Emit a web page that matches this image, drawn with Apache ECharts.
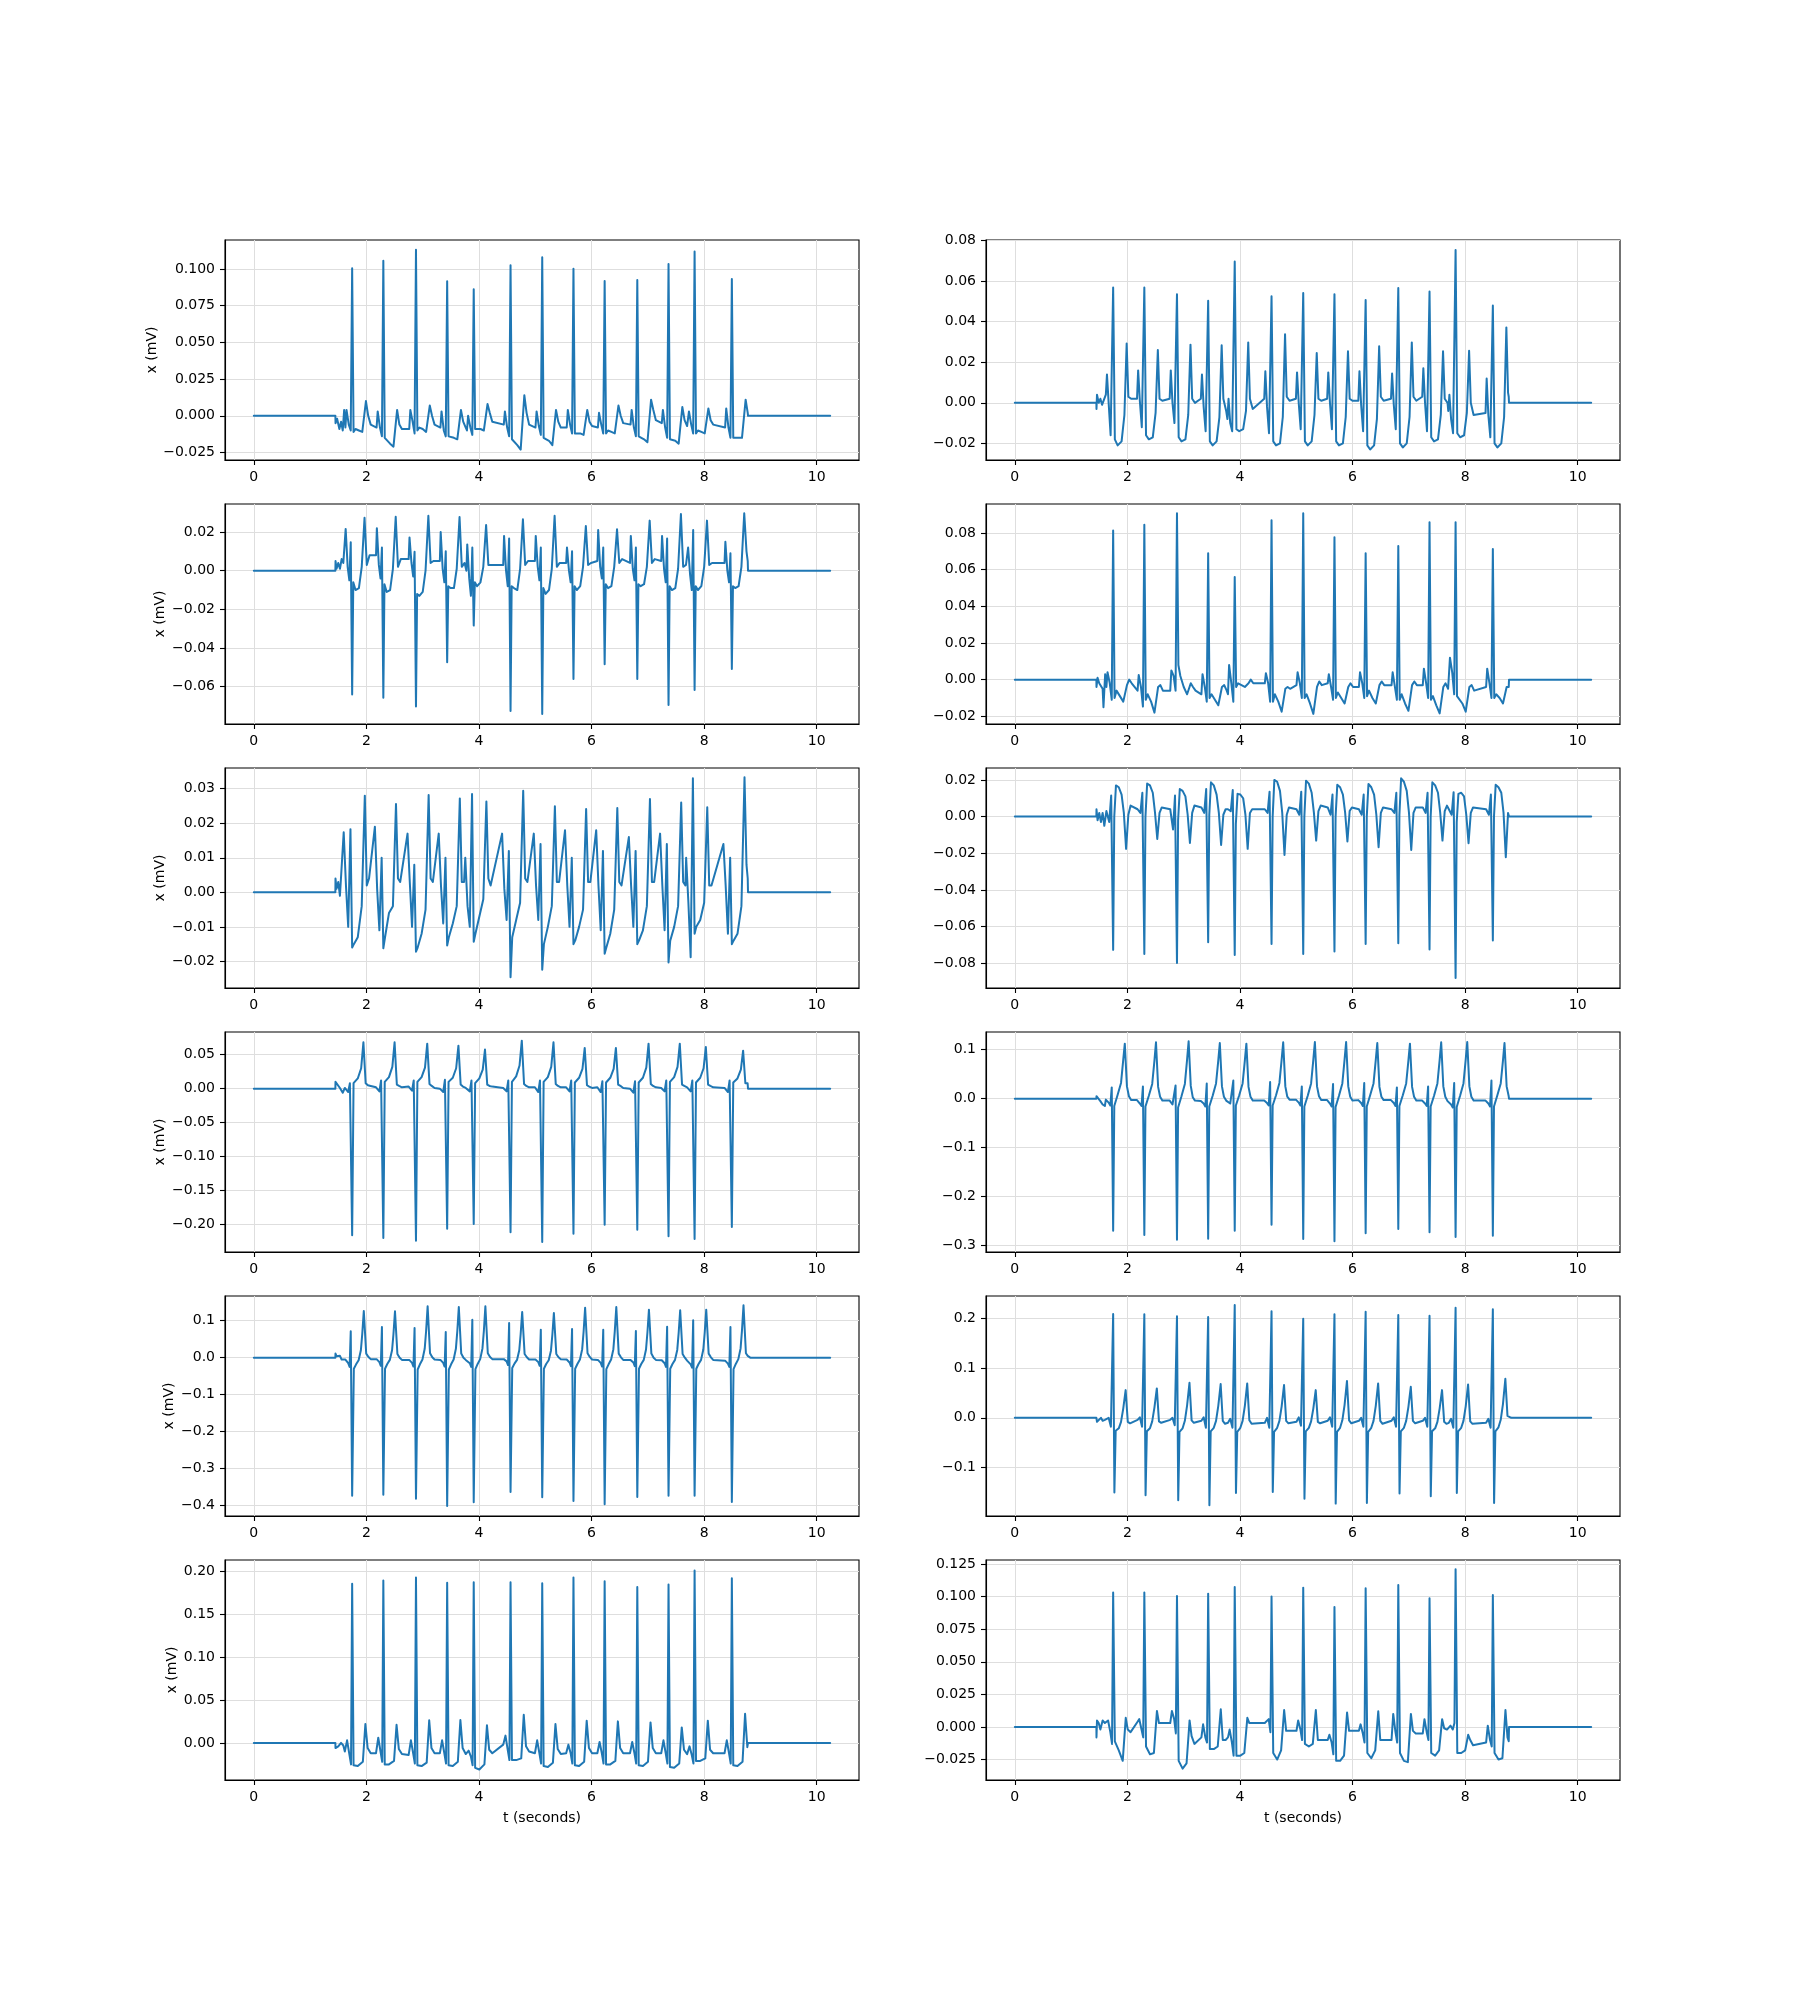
<!DOCTYPE html>
<html>
<head>
<meta charset="utf-8">
<script src="https://cdn.jsdelivr.net/npm/echarts@6/dist/echarts.min.js"></script>
<style>html,body{margin:0;padding:0;background:#fff;}#chart{width:1800px;height:2000px;}</style>
</head>
<body>
<div id="chart"></div>
<script>
// ---- data ----
const rTimes = [1.747, 2.301, 2.881, 3.435, 3.907, 4.561, 5.124, 5.679, 6.233, 6.813, 7.368, 7.831, 8.493];
const tStart = 1.449, tEnd = 8.775, tFlat = [8.78, 8.82], tLast = 10.24;
const xTicks = [0, 2, 4, 6, 8, 10];

// lead 0 (row 1, left)
const offs0 = [-0.12, -0.1, -0.06, -0.025, 0, 0.025, 0.06, 0.12, 0.18, 0.245, 0.285, 0.33];
const beats0 = [
 [-0.008, 0.004, -0.006, -0.010, 0.1005, -0.011, -0.009, -0.010, -0.011, 0.010, 0.000, -0.006],
 [-0.008, 0.003, -0.008, -0.014, 0.1055, -0.015, -0.016, -0.019, -0.021, 0.004, -0.006, -0.009],
 [-0.009, 0.004, -0.004, -0.012, 0.1130, -0.010, -0.008, -0.009, -0.011, 0.007, 0.000, -0.006],
 [-0.008, 0.003, -0.010, -0.014, 0.0916, -0.014, -0.013, -0.015, -0.016, 0.004, -0.004, -0.008],
 [-0.010, 0.000, -0.008, -0.013, 0.0861, -0.009, -0.008, -0.009, -0.010, 0.008, 0.002, -0.004],
 [-0.006, 0.003, -0.008, -0.014, 0.1025, -0.016, -0.015, -0.020, -0.023, 0.014, 0.002, -0.006],
 [-0.008, 0.003, -0.007, -0.013, 0.1080, -0.015, -0.014, -0.017, -0.020, 0.004, -0.004, -0.008],
 [-0.008, 0.004, -0.006, -0.012, 0.1002, -0.012, -0.011, -0.012, -0.013, 0.004, -0.004, -0.007],
 [-0.008, 0.002, -0.006, -0.012, 0.0918, -0.012, -0.010, -0.011, -0.012, 0.007, 0.000, -0.005],
 [-0.006, 0.004, -0.008, -0.014, 0.0925, -0.014, -0.013, -0.016, -0.018, 0.011, 0.004, -0.003],
 [-0.005, 0.004, -0.008, -0.015, 0.1034, -0.016, -0.015, -0.017, -0.019, 0.006, -0.003, -0.007],
 [-0.008, 0.003, -0.006, -0.012, 0.1118, -0.012, -0.010, -0.011, -0.012, 0.005, -0.003, -0.006],
 [-0.008, 0.005, -0.008, -0.015, 0.0932, -0.015, -0.014, -0.015, -0.015, 0.011, 0.003, 0.000]
];
const in0 = [[1.452, -0.005], [1.48, -0.002], [1.52, -0.009], [1.55, -0.004], [1.58, -0.010], [1.605, 0.004]];
const out0 = [[8.775, 0.002]];
const yTicks0 = [-0.025, 0, 0.025, 0.05, 0.075, 0.1];

// lead 1 (row 1, right)
const offs1 = [-0.13, -0.11, -0.08, -0.045, 0, 0.03, 0.08, 0.15, 0.2, 0.24, 0.27, 0.32];
const beats1 = [
 [0.004, 0.014, 0.000, -0.016, 0.0569, -0.018, -0.021, -0.019, -0.006, 0.0293, 0.003, 0.002],
 [0.002, 0.016, 0.001, -0.012, 0.0569, -0.016, -0.018, -0.017, -0.005, 0.0260, 0.002, 0.001],
 [0.002, 0.016, 0.000, -0.010, 0.0536, -0.017, -0.019, -0.018, -0.006, 0.0287, 0.002, 0.000],
 [0.002, 0.014, -0.002, -0.014, 0.0503, -0.019, -0.021, -0.019, -0.007, 0.0284, 0.002, -0.004],
 [-0.008, 0.002, -0.010, -0.014, 0.0697, -0.013, -0.014, -0.013, -0.004, 0.0298, 0.002, -0.003],
 [0.002, 0.0156, -0.002, -0.015, 0.0525, -0.019, -0.021, -0.020, -0.007, 0.0338, 0.003, 0.001],
 [0.002, 0.015, 0.000, -0.013, 0.0541, -0.019, -0.021, -0.019, -0.006, 0.0246, 0.002, 0.001],
 [0.002, 0.015, 0.000, -0.013, 0.0536, -0.019, -0.021, -0.020, -0.007, 0.0254, 0.002, 0.001],
 [0.001, 0.0156, -0.001, -0.014, 0.0507, -0.021, -0.023, -0.021, -0.008, 0.0279, 0.003, 0.001],
 [0.002, 0.0144, -0.001, -0.013, 0.0566, -0.020, -0.022, -0.020, -0.007, 0.0298, 0.003, 0.001],
 [0.003, 0.017, 0.000, -0.014, 0.0549, -0.017, -0.019, -0.018, -0.006, 0.0254, 0.002, 0.000],
 [-0.004, 0.004, -0.008, -0.015, 0.0754, -0.015, -0.017, -0.016, -0.005, 0.0257, 0.000, -0.006],
 [-0.005, 0.012, -0.006, -0.017, 0.0480, -0.020, -0.022, -0.020, -0.007, 0.0372, 0.005, 0.000]
];
const in1 = [[1.451, -0.003], [1.46, 0.004], [1.49, 0.000], [1.52, 0.002], [1.55, -0.001]];
const out1 = [[8.775, 0.003]];
const yTicks1 = [-0.02, 0, 0.02, 0.04, 0.06, 0.08];

// lead 2 (row 2, left)
const offs2 = [-0.13, -0.115, -0.08, -0.05, -0.025, 0, 0.02, 0.06, 0.12, 0.17, 0.22, 0.26, 0.31];
const beats2 = [
 [0.005, 0.0216, 0.002, -0.005, 0.0147, -0.0640, -0.006, -0.010, -0.009, 0.002, 0.0274, 0.003, 0.008],
 [0.008, 0.0220, 0.003, -0.004, 0.0120, -0.0657, -0.007, -0.011, -0.010, 0.001, 0.0279, 0.002, 0.006],
 [0.006, 0.0172, 0.004, -0.003, 0.0098, -0.0703, -0.012, -0.013, -0.011, 0.000, 0.0284, 0.004, 0.005],
 [0.005, 0.0200, 0.001, -0.006, 0.0100, -0.0474, -0.008, -0.009, -0.009, 0.001, 0.0278, 0.002, 0.004],
 [0.000, 0.0136, -0.004, -0.013, 0.0120, -0.0284, -0.006, -0.008, -0.006, 0.002, 0.0236, 0.003, 0.003],
 [0.003, 0.0180, 0.000, -0.008, 0.0167, -0.0726, -0.008, -0.009, -0.010, 0.001, 0.0266, 0.003, 0.005],
 [0.005, 0.0180, 0.002, -0.005, 0.0120, -0.0741, -0.009, -0.012, -0.010, 0.001, 0.0284, 0.002, 0.004],
 [0.004, 0.0120, 0.000, -0.006, 0.0100, -0.0560, -0.008, -0.010, -0.008, 0.002, 0.0231, 0.003, 0.004],
 [0.005, 0.0210, 0.002, -0.004, 0.0120, -0.0484, -0.007, -0.009, -0.008, 0.002, 0.0214, 0.004, 0.006],
 [0.004, 0.0180, 0.001, -0.005, 0.0120, -0.0560, -0.007, -0.008, -0.007, 0.002, 0.0259, 0.004, 0.006],
 [0.005, 0.0180, 0.001, -0.006, 0.0167, -0.0695, -0.008, -0.010, -0.009, 0.001, 0.0293, 0.002, 0.003],
 [0.003, 0.0120, -0.002, -0.010, 0.0210, -0.0617, -0.008, -0.010, -0.008, 0.002, 0.0259, 0.003, 0.004],
 [0.004, 0.0150, 0.000, -0.006, 0.0090, -0.0509, -0.008, -0.009, -0.008, 0.002, 0.0297, 0.010, 0.000]
];
const in2 = [[1.452, 0.005], [1.47, 0.001], [1.5, 0.004], [1.53, 0.001], [1.56, 0.006], [1.59, 0.004]];
const out2 = [[8.775, 0.005]];
const yTicks2 = [-0.06, -0.04, -0.02, 0, 0.02];

// lead 3 (row 2, right)
const offs3 = [-0.12, -0.1, -0.06, -0.025, 0, 0.025, 0.06, 0.12, 0.18, 0.245, 0.285, 0.33];
const beats3 = [
 [-0.004, 0.004, -0.002, -0.011, 0.0813, -0.010, -0.006, -0.009, -0.012, -0.003, 0.000, -0.002],
 [-0.006, 0.0025, -0.004, -0.0147, 0.0845, -0.011, -0.008, -0.012, -0.018, -0.004, -0.003, -0.006],
 [-0.006, 0.005, 0.002, -0.006, 0.0907, 0.008, 0.002, -0.004, -0.008, -0.002, -0.004, -0.006],
 [-0.008, 0.003, -0.004, -0.012, 0.0689, -0.010, -0.008, -0.011, -0.014, -0.004, -0.003, -0.006],
 [-0.008, 0.008, -0.002, -0.012, 0.0560, -0.004, -0.002, -0.003, -0.004, -0.002, 0.000, -0.002],
 [-0.002, 0.0035, -0.002, -0.012, 0.0869, -0.012, -0.008, -0.012, -0.0175, -0.005, -0.004, -0.005],
 [-0.003, 0.004, -0.002, -0.010, 0.0907, -0.010, -0.008, -0.013, -0.0187, -0.004, -0.001, -0.003],
 [-0.002, 0.003, -0.004, -0.011, 0.0776, -0.010, -0.007, -0.010, -0.013, -0.004, -0.002, -0.004],
 [-0.004, 0.004, -0.002, -0.010, 0.0689, -0.009, -0.006, -0.010, -0.013, -0.003, -0.001, -0.003],
 [-0.003, 0.004, -0.004, -0.011, 0.0729, -0.011, -0.008, -0.013, -0.017, -0.003, -0.001, -0.003],
 [-0.003, 0.006, -0.002, -0.010, 0.0858, -0.011, -0.009, -0.014, -0.0184, -0.004, -0.002, -0.005],
 [-0.006, 0.012, 0.004, -0.008, 0.0858, -0.009, -0.008, -0.013, -0.0175, -0.004, -0.003, -0.006],
 [-0.004, 0.006, -0.002, -0.010, 0.0713, -0.010, -0.008, -0.010, -0.013, -0.004, -0.003, -0.003]
];
const in3 = [[1.451, -0.004], [1.47, 0.001], [1.5, -0.002], [1.53, -0.003], [1.56, -0.005], [1.575, -0.015], [1.605, 0.003]];
const out3 = [[8.775, -0.004]];
const yTicks3 = [-0.02, 0, 0.02, 0.04, 0.06, 0.08];

// lead 4 (row 3, left)
const offs4 = [-0.15, -0.11, -0.07, -0.03, 0, 0.03, 0.1, 0.17, 0.225, 0.26, 0.30];
const beats4 = [
 [0.0174, 0.002, -0.010, 0.0183, -0.0160, -0.015, -0.013, -0.004, 0.0280, 0.002, 0.004],
 [0.0190, 0.001, -0.011, 0.0100, -0.0162, -0.013, -0.006, -0.004, 0.0256, 0.004, 0.003],
 [0.0170, 0.003, -0.010, 0.0080, -0.0172, -0.016, -0.012, -0.005, 0.0282, 0.004, 0.003],
 [0.0170, 0.002, -0.009, 0.0100, -0.0154, -0.013, -0.009, -0.004, 0.0272, 0.003, 0.003],
 [0.0100, -0.004, -0.010, 0.0285, -0.0143, -0.012, -0.007, -0.002, 0.0263, 0.004, 0.002],
 [0.0170, 0.001, -0.008, 0.0120, -0.0246, -0.013, -0.008, -0.003, 0.0294, 0.004, 0.003],
 [0.0170, 0.002, -0.008, 0.0140, -0.0224, -0.015, -0.010, -0.004, 0.0249, 0.003, 0.003],
 [0.0180, 0.002, -0.010, 0.0100, -0.0150, -0.014, -0.010, -0.005, 0.0241, 0.003, 0.003],
 [0.0180, 0.002, -0.011, 0.0120, -0.0178, -0.016, -0.012, -0.005, 0.0244, 0.003, 0.002],
 [0.0160, 0.002, -0.010, 0.0120, -0.0150, -0.014, -0.011, -0.004, 0.0270, 0.003, 0.003],
 [0.0170, 0.002, -0.011, 0.0140, -0.0203, -0.014, -0.010, -0.004, 0.0260, 0.003, 0.002],
 [0.0100, -0.003, -0.0188, 0.0330, -0.0120, -0.010, -0.008, -0.003, 0.0246, 0.002, 0.002],
 [0.0140, 0.002, -0.012, 0.0100, -0.0150, -0.014, -0.012, -0.004, 0.0333, 0.008, 0.004]
];
const in4 = [[1.451, 0.004], [1.47, 0.001], [1.5, 0.003], [1.53, -0.001], [1.57, 0.010]];
const out4 = [[8.775, 0.004]];
const yTicks4 = [-0.02, -0.01, 0, 0.01, 0.02, 0.03];

// lead 5 (row 3, right)
const offs5 = [-0.12, -0.07, -0.035, 0, 0.02, 0.05, 0.1, 0.15, 0.19, 0.23, 0.27, 0.31];
const beats5 = [
 [0.003, -0.003, 0.0115, -0.0727, 0.000, 0.0170, 0.016, 0.012, 0.002, -0.0176, 0.001, 0.006],
 [0.004, 0.002, 0.0130, -0.0749, 0.000, 0.0180, 0.017, 0.013, 0.002, -0.0122, 0.002, 0.005],
 [0.004, -0.007, 0.0115, -0.0798, -0.002, 0.0150, 0.014, 0.011, 0.001, -0.0144, 0.002, 0.006],
 [0.005, 0.002, 0.0150, -0.0685, 0.001, 0.0187, 0.017, 0.012, 0.002, -0.0155, 0.001, 0.004],
 [0.004, 0.003, 0.0145, -0.0755, -0.004, 0.0124, 0.012, 0.010, 0.001, -0.0176, 0.002, 0.004],
 [0.004, 0.002, 0.0136, -0.0695, 0.000, 0.0200, 0.019, 0.014, 0.002, -0.0209, 0.001, 0.005],
 [0.004, 0.001, 0.0136, -0.0749, 0.000, 0.0196, 0.018, 0.013, 0.002, -0.0131, 0.003, 0.006],
 [0.005, 0.001, 0.0120, -0.0736, 0.000, 0.0173, 0.016, 0.012, 0.002, -0.0136, 0.003, 0.005],
 [0.004, 0.001, 0.0120, -0.0695, 0.000, 0.0178, 0.016, 0.012, 0.001, -0.0167, 0.002, 0.005],
 [0.004, 0.002, 0.0130, -0.0691, 0.001, 0.0209, 0.019, 0.014, 0.002, -0.0182, 0.002, 0.005],
 [0.005, 0.002, 0.0130, -0.0725, 0.000, 0.0187, 0.017, 0.013, 0.002, -0.0131, 0.003, 0.006],
 [0.004, 0.001, 0.0133, -0.0880, -0.003, 0.0124, 0.013, 0.011, 0.001, -0.0145, 0.002, 0.005],
 [0.004, 0.001, 0.0120, -0.0676, 0.000, 0.0173, 0.016, 0.013, 0.002, -0.0222, 0.002, 0.002]
];
const in5 = [[1.451, 0.004], [1.47, -0.002], [1.5, 0.002], [1.53, -0.003], [1.56, 0.002], [1.59, -0.005]];
const out5 = [[8.775, 0.002]];
const yTicks5 = [-0.08, -0.06, -0.04, -0.02, 0, 0.02];

// lead 6 (row 4, left)
const offs6 = [-0.13, -0.07, -0.04, 0, 0.025, 0.1, 0.16, 0.2, 0.24, 0.28, 0.33];
const beats6 = [
 [0.001, -0.005, 0.008, -0.2157, 0.008, 0.015, 0.030, 0.0681, 0.008, 0.005, 0.004],
 [0.002, -0.004, 0.012, -0.2196, 0.010, 0.017, 0.032, 0.0681, 0.006, 0.004, 0.002],
 [0.003, -0.003, 0.012, -0.2235, 0.010, 0.017, 0.031, 0.0662, 0.007, 0.004, 0.001],
 [0.000, -0.005, 0.013, -0.2059, 0.010, 0.016, 0.030, 0.0632, 0.006, 0.003, 0.001],
 [0.000, -0.004, 0.012, -0.1990, 0.008, 0.015, 0.028, 0.0574, 0.006, 0.004, 0.003],
 [0.001, -0.004, 0.012, -0.2113, 0.010, 0.018, 0.034, 0.0706, 0.007, 0.004, 0.002],
 [0.002, -0.005, 0.012, -0.2255, 0.010, 0.017, 0.032, 0.0681, 0.007, 0.004, 0.002],
 [0.002, -0.004, 0.012, -0.2132, 0.009, 0.016, 0.029, 0.0598, 0.005, 0.003, 0.001],
 [0.002, -0.005, 0.011, -0.2000, 0.009, 0.016, 0.029, 0.0598, 0.006, 0.004, 0.001],
 [0.000, -0.006, 0.011, -0.2074, 0.009, 0.016, 0.031, 0.0662, 0.007, 0.004, 0.002],
 [0.001, -0.004, 0.012, -0.2172, 0.010, 0.017, 0.032, 0.0662, 0.006, 0.004, 0.002],
 [0.001, -0.004, 0.012, -0.2211, 0.009, 0.016, 0.030, 0.0613, 0.006, 0.004, 0.002],
 [0.001, -0.005, 0.012, -0.2034, 0.009, 0.015, 0.028, 0.0559, 0.008, 0.008, 0.004]
];
const in6 = [[1.451, 0.010], [1.48, 0.008], [1.53, 0.001], [1.58, -0.006]];
const out6 = [[8.775, 0.008]];
const yTicks6 = [-0.2, -0.15, -0.1, -0.05, 0, 0.05];

// lead 7 (row 4, right)
const offs7 = [-0.13, -0.08, -0.05, -0.025, 0, 0.02, 0.08, 0.14, 0.18, 0.207, 0.245, 0.28, 0.32];
const beats7 = [
 [-0.002, -0.008, -0.014, 0.023, -0.2694, -0.015, 0.008, 0.032, 0.080, 0.1122, 0.025, 0.005, -0.003],
 [-0.003, -0.010, -0.015, 0.025, -0.2782, -0.016, 0.006, 0.030, 0.078, 0.1150, 0.024, 0.004, -0.004],
 [-0.004, -0.012, -0.016, 0.027, -0.2878, -0.018, 0.005, 0.030, 0.080, 0.1170, 0.026, 0.003, -0.004],
 [-0.005, -0.010, -0.016, 0.031, -0.2857, -0.016, 0.006, 0.031, 0.078, 0.1136, 0.025, 0.004, -0.004],
 [-0.004, -0.010, -0.014, 0.037, -0.2694, -0.014, 0.007, 0.031, 0.078, 0.1122, 0.024, 0.004, -0.004],
 [-0.004, -0.009, -0.014, 0.034, -0.2571, -0.014, 0.007, 0.032, 0.080, 0.1150, 0.025, 0.004, -0.002],
 [-0.002, -0.008, -0.014, 0.025, -0.2864, -0.016, 0.006, 0.031, 0.080, 0.1156, 0.025, 0.005, -0.003],
 [-0.003, -0.010, -0.016, 0.030, -0.2912, -0.017, 0.006, 0.031, 0.080, 0.1156, 0.025, 0.004, -0.004],
 [-0.003, -0.009, -0.015, 0.032, -0.2748, -0.016, 0.007, 0.031, 0.079, 0.1136, 0.024, 0.004, -0.003],
 [-0.003, -0.009, -0.015, 0.023, -0.2660, -0.015, 0.007, 0.031, 0.078, 0.1122, 0.024, 0.004, -0.004],
 [-0.004, -0.010, -0.015, 0.025, -0.2728, -0.016, 0.006, 0.031, 0.079, 0.1150, 0.025, 0.004, -0.005],
 [-0.006, -0.012, -0.018, 0.032, -0.2823, -0.017, 0.006, 0.031, 0.080, 0.1156, 0.025, 0.004, -0.004],
 [-0.004, -0.010, -0.016, 0.037, -0.2796, -0.016, 0.007, 0.031, 0.078, 0.1136, 0.025, 0.006, -0.003]
];
const in7 = [[1.451, 0.005], [1.48, 0.003], [1.52, -0.005], [1.56, -0.012], [1.6, -0.015]];
const out7 = [[8.775, 0.004]];
const yTicks7 = [-0.3, -0.2, -0.1, 0, 0.1];

// lead 8 (row 5, left)
const offs8 = [-0.12, -0.07, -0.045, -0.025, 0, 0.03, 0.07, 0.115, 0.155, 0.18, 0.207, 0.25, 0.29, 0.33];
const beats8 = [
 [-0.005, -0.015, -0.025, 0.0712, -0.3730, -0.030, -0.018, -0.007, 0.020, 0.065, 0.1261, 0.011, 0.002, -0.004],
 [-0.004, -0.012, -0.022, 0.0829, -0.3703, -0.030, -0.017, -0.006, 0.020, 0.064, 0.1252, 0.010, 0.000, -0.006],
 [-0.006, -0.014, -0.024, 0.0802, -0.3811, -0.032, -0.018, -0.005, 0.024, 0.072, 0.1387, 0.012, 0.001, -0.005],
 [-0.006, -0.014, -0.024, 0.0694, -0.4009, -0.032, -0.018, -0.005, 0.024, 0.071, 0.1369, 0.011, 0.000, -0.006],
 [-0.008, -0.015, -0.025, 0.1027, -0.3910, -0.031, -0.017, -0.004, 0.025, 0.072, 0.1387, 0.012, 0.002, -0.004],
 [-0.004, -0.010, -0.020, 0.0937, -0.3631, -0.028, -0.016, -0.006, 0.020, 0.064, 0.1234, 0.010, 0.001, -0.005],
 [-0.005, -0.012, -0.022, 0.0757, -0.3775, -0.030, -0.017, -0.007, 0.019, 0.062, 0.1207, 0.010, 0.001, -0.004],
 [-0.005, -0.013, -0.023, 0.0775, -0.3874, -0.030, -0.017, -0.005, 0.023, 0.070, 0.1351, 0.012, 0.002, -0.005],
 [-0.006, -0.014, -0.024, 0.0757, -0.3964, -0.031, -0.018, -0.005, 0.023, 0.071, 0.1369, 0.011, 0.001, -0.006],
 [-0.006, -0.013, -0.023, 0.0721, -0.3766, -0.030, -0.017, -0.006, 0.022, 0.068, 0.1297, 0.011, 0.000, -0.006],
 [-0.007, -0.015, -0.025, 0.0838, -0.3730, -0.030, -0.017, -0.006, 0.021, 0.067, 0.1279, 0.010, 0.000, -0.008],
 [-0.010, -0.018, -0.027, 0.1009, -0.3730, -0.030, -0.017, -0.006, 0.022, 0.068, 0.1297, 0.011, 0.001, -0.006],
 [-0.008, -0.016, -0.025, 0.0829, -0.3901, -0.031, -0.017, -0.004, 0.025, 0.074, 0.1414, 0.012, 0.003, 0.000]
];
const in8 = [[1.451, 0.011], [1.47, 0.004], [1.5, 0.000], [1.53, 0.005], [1.56, -0.005]];
const out8 = [[8.775, 0.005]];
const yTicks8 = [-0.4, -0.3, -0.2, -0.1, 0, 0.1];

// lead 9 (row 5, right)
const offs9 = [-0.12, -0.08, -0.04, -0.012, 0, 0.022, 0.045, 0.1, 0.14, 0.18, 0.222, 0.26, 0.3];
const beats9 = [
 [-0.006, 0.000, -0.018, -0.020, 0.2080, -0.1498, -0.026, -0.021, -0.008, 0.019, 0.0555, -0.008, -0.011],
 [-0.004, 0.001, -0.018, -0.020, 0.2074, -0.1552, -0.027, -0.021, -0.007, 0.021, 0.0589, -0.007, -0.010],
 [-0.004, 0.000, -0.015, -0.018, 0.2033, -0.1652, -0.028, -0.021, -0.006, 0.025, 0.0702, -0.005, -0.010],
 [-0.006, 0.001, -0.020, -0.022, 0.2020, -0.1753, -0.027, -0.020, -0.006, 0.024, 0.0676, -0.006, -0.012],
 [-0.010, -0.002, -0.020, -0.022, 0.2261, -0.1505, -0.028, -0.020, -0.006, 0.024, 0.0689, -0.005, -0.012],
 [-0.010, 0.000, -0.020, -0.022, 0.2134, -0.1485, -0.028, -0.020, -0.006, 0.023, 0.0656, -0.006, -0.011],
 [-0.008, 0.001, -0.016, -0.020, 0.1987, -0.1619, -0.027, -0.020, -0.007, 0.019, 0.0555, -0.008, -0.011],
 [-0.006, 0.001, -0.018, -0.022, 0.2074, -0.1719, -0.028, -0.020, -0.005, 0.026, 0.0736, -0.005, -0.011],
 [-0.006, 0.000, -0.018, -0.022, 0.2127, -0.1706, -0.028, -0.020, -0.006, 0.024, 0.0689, -0.006, -0.012],
 [-0.006, 0.001, -0.018, -0.020, 0.2060, -0.1518, -0.027, -0.020, -0.006, 0.022, 0.0622, -0.006, -0.011],
 [-0.006, 0.000, -0.018, -0.020, 0.2047, -0.1572, -0.027, -0.021, -0.008, 0.019, 0.0555, -0.008, -0.012],
 [-0.010, -0.002, -0.020, -0.022, 0.2207, -0.1505, -0.027, -0.020, -0.006, 0.023, 0.0669, -0.007, -0.012],
 [-0.010, -0.002, -0.020, -0.022, 0.2174, -0.1706, -0.027, -0.019, -0.004, 0.028, 0.0783, 0.004, 0.000]
];
const in9 = [[1.451, 0.000], [1.46, -0.008], [1.49, -0.004], [1.53, 0.000], [1.56, -0.006], [1.6, -0.004]];
const out9 = [[8.775, 0.003]];
const yTicks9 = [-0.1, 0, 0.1, 0.2];

// lead 10 (row 6, left)
const offs10 = [-0.13, -0.09, -0.05, -0.02, 0, 0.025, 0.1, 0.19, 0.235, 0.275, 0.33];
const beats10 = [
 [-0.010, 0.003, -0.013, -0.025, 0.1853, -0.026, -0.027, -0.022, 0.0220, -0.006, -0.012],
 [-0.012, 0.006, -0.010, -0.022, 0.1892, -0.025, -0.025, -0.021, 0.0212, -0.007, -0.013],
 [-0.014, 0.003, -0.012, -0.024, 0.1927, -0.026, -0.027, -0.023, 0.0263, -0.006, -0.012],
 [-0.012, 0.003, -0.012, -0.024, 0.1865, -0.026, -0.027, -0.022, 0.0266, -0.006, -0.013],
 [-0.014, -0.009, -0.016, -0.026, 0.1873, -0.029, -0.031, -0.025, 0.0205, -0.008, -0.012],
 [-0.002, 0.0085, -0.008, -0.020, 0.1873, -0.020, -0.020, -0.018, 0.0328, -0.004, -0.010],
 [-0.012, 0.003, -0.012, -0.024, 0.1861, -0.027, -0.028, -0.023, 0.0220, -0.007, -0.013],
 [-0.012, -0.002, -0.012, -0.024, 0.1927, -0.026, -0.027, -0.022, 0.0259, -0.006, -0.012],
 [-0.012, 0.001, -0.012, -0.024, 0.1884, -0.025, -0.025, -0.021, 0.0251, -0.006, -0.012],
 [-0.012, 0.001, -0.012, -0.024, 0.1815, -0.026, -0.027, -0.022, 0.0239, -0.006, -0.012],
 [-0.012, 0.003, -0.012, -0.024, 0.1846, -0.028, -0.029, -0.024, 0.0181, -0.008, -0.013],
 [-0.014, -0.004, -0.014, -0.024, 0.2008, -0.021, -0.021, -0.018, 0.0259, -0.008, -0.012],
 [-0.012, 0.003, -0.012, -0.024, 0.1919, -0.026, -0.027, -0.022, 0.0340, -0.005, -0.005]
];
const in10 = [[1.451, -0.006], [1.47, -0.008], [1.5, -0.004], [1.55, 0.000], [1.59, -0.003]];
const out10 = [[8.775, -0.004]];
const yTicks10 = [0, 0.05, 0.1, 0.15, 0.2];

// lead 11 (row 6, right)
const offs11 = [-0.12, -0.09, -0.05, -0.02, 0, 0.03, 0.1, 0.17, 0.224, 0.26, 0.31];
const beats11 = [
 [0.004, 0.005, -0.004, -0.013, 0.1031, -0.011, -0.018, -0.026, 0.0070, -0.002, -0.004],
 [0.004, 0.006, -0.002, -0.008, 0.1031, -0.015, -0.021, -0.020, 0.0123, 0.003, 0.003],
 [0.003, 0.0123, 0.006, -0.005, 0.1005, -0.026, -0.032, -0.028, 0.0050, -0.007, -0.013],
 [-0.008, 0.002, -0.008, -0.012, 0.1023, -0.017, -0.017, -0.015, 0.0136, -0.010, -0.010],
 [-0.008, -0.002, -0.012, -0.022, 0.1074, -0.022, -0.022, -0.020, 0.0070, 0.003, 0.003],
 [0.003, 0.003, 0.006, -0.004, 0.1000, -0.020, -0.025, -0.018, 0.0130, -0.003, -0.003],
 [-0.003, 0.005, -0.002, -0.010, 0.1069, -0.013, -0.015, -0.013, 0.0130, -0.010, -0.010],
 [-0.010, -0.006, -0.012, -0.021, 0.0921, -0.026, -0.026, -0.022, 0.0110, -0.003, -0.003],
 [-0.003, 0.002, -0.005, -0.012, 0.1064, -0.020, -0.024, -0.018, 0.0120, -0.010, -0.010],
 [-0.010, 0.010, -0.004, -0.012, 0.1090, -0.020, -0.026, -0.027, 0.0100, -0.003, -0.005],
 [-0.005, 0.006, -0.004, -0.010, 0.0987, -0.020, -0.022, -0.018, 0.0060, -0.001, -0.002],
 [-0.002, 0.001, -0.002, 0.003, 0.1210, -0.020, -0.020, -0.018, -0.0060, -0.010, -0.014],
 [-0.012, 0.001, -0.010, -0.015, 0.1013, -0.020, -0.025, -0.024, 0.0130, -0.008, -0.010]
];
const in11 = [[1.451, -0.008], [1.46, 0.005], [1.49, 0.003], [1.52, -0.002], [1.56, 0.005], [1.6, 0.003]];
const out11 = [[8.775, -0.011]];
const yTicks11 = [-0.025, 0, 0.025, 0.05, 0.075, 0.1, 0.125];

// ---- assemble ----
function buildLine(leadIn, offs, beats, leadOut) {
  const pts = [[0, 0], [tStart, 0]];
  leadIn.forEach(p => pts.push(p));
  beats.forEach((vals, i) => {
    offs.forEach((o, j) => {
      const t = +(rTimes[i] + o).toFixed(4);
      if (t < tEnd) pts.push([t, vals[j]]);
    });
  });
  leadOut.forEach(p => pts.push(p));
  tFlat.forEach(t => pts.push([t, 0]));
  pts.push([tLast, 0]);
  return pts;
}

const panels = [
  {line: buildLine(in0, offs0, beats0, out0), ticks: yTicks0, min: -0.0301, max: 0.1197, dec: 3, row: 0, col: 0, gap: 66},
  {line: buildLine(in1, offs1, beats1, out1), ticks: yTicks1, min: -0.0282, max: 0.0803, dec: 2, row: 0, col: 1},
  {line: buildLine(in2, offs2, beats2, out2), ticks: yTicks2, min: -0.0793, max: 0.0345, dec: 2, row: 1, col: 0, gap: 58},
  {line: buildLine(in3, offs3, beats3, out3), ticks: yTicks3, min: -0.0242, max: 0.0958, dec: 2, row: 1, col: 1},
  {line: buildLine(in4, offs4, beats4, out4), ticks: yTicks4, min: -0.0277, max: 0.0360, dec: 2, row: 2, col: 0, gap: 58},
  {line: buildLine(in5, offs5, beats5, out5), ticks: yTicks5, min: -0.0935, max: 0.0265, dec: 2, row: 2, col: 1},
  {line: buildLine(in6, offs6, beats6, out6), ticks: yTicks6, min: -0.2402, max: 0.0833, dec: 2, row: 3, col: 0, gap: 58},
  {line: buildLine(in7, offs7, beats7, out7), ticks: yTicks7, min: -0.3129, max: 0.1360, dec: 1, row: 3, col: 1},
  {line: buildLine(in8, offs8, beats8, out8), ticks: yTicks8, min: -0.4279, max: 0.1667, dec: 1, row: 4, col: 0, gap: 49},
  {line: buildLine(in9, offs9, beats9, out9), ticks: yTicks9, min: -0.1967, max: 0.2441, dec: 1, row: 4, col: 1},
  {line: buildLine(in10, offs10, beats10, out10), ticks: yTicks10, min: -0.0432, max: 0.2131, dec: 2, row: 5, col: 0, gap: 46},
  {line: buildLine(in11, offs11, beats11, out11), ticks: yTicks11, min: -0.0407, max: 0.1281, dec: 3, row: 5, col: 1}
];

const FONT = 'DejaVu Sans';
const rowTops = [240, 504, 768, 1032, 1296, 1560];
const colLefts = [225, 986];
const W = 634, H = 220;

function fmt(v, d) {
  const s = Math.abs(v).toFixed(d);
  return (v < -1e-12 ? '\u2212' : '') + s;
}

const grids = [], xAxes = [], yAxes = [], series = [];
panels.forEach((p, i) => {
  grids.push({left: colLefts[p.col], top: rowTops[p.row], width: W, height: H,
    show: true, borderColor: '#000', borderWidth: 1.1, backgroundColor: 'transparent', containLabel: false});
  xAxes.push({
    type: 'value', gridIndex: i, min: -0.512, max: 10.752,
    axisLine: {show: true, onZero: false, lineStyle: {color: '#000', width: 1.1}},
    axisTick: {show: true, length: 5, lineStyle: {color: '#000', width: 1.1}, customValues: xTicks},
    axisLabel: {show: true, color: '#000', fontFamily: FONT, fontSize: 14, margin: 10, customValues: xTicks,
      formatter: v => String(v)},
    splitLine: {show: true, lineStyle: {color: '#dedede', width: 1}},
    name: p.row === 5 ? 't (seconds)' : '', nameLocation: 'middle', nameGap: 31,
    nameTextStyle: {color: '#000', fontFamily: FONT, fontSize: 14}
  });
  yAxes.push({
    type: 'value', gridIndex: i, min: p.min, max: p.max,
    axisLine: {show: true, onZero: false, lineStyle: {color: '#000', width: 1.1}},
    axisTick: {show: true, length: 5, lineStyle: {color: '#000', width: 1.1}, customValues: p.ticks},
    axisLabel: {show: true, color: '#000', fontFamily: FONT, fontSize: 14, margin: 10, customValues: p.ticks,
      formatter: v => fmt(v, p.dec)},
    splitLine: {show: true, lineStyle: {color: '#dedede', width: 1}},
    name: p.col === 0 ? 'x (mV)' : '', nameLocation: 'middle', nameRotate: 90, nameGap: p.gap || 50,
    nameTextStyle: {color: '#000', fontFamily: FONT, fontSize: 14}
  });
  series.push({
    type: 'line', xAxisIndex: i, yAxisIndex: i, data: p.line, showSymbol: false, symbol: 'none',
    sampling: null, animation: false, clip: true,
    lineStyle: {color: '#1f77b4', width: 2, join: 'round', cap: 'round'}, itemStyle: {color: '#1f77b4'}
  });
});

const chart = echarts.init(document.getElementById('chart'), null, {renderer: 'canvas', width: 1800, height: 2000});
chart.setOption({
  backgroundColor: '#ffffff',
  animation: false,
  textStyle: {fontFamily: FONT},
  grid: grids, xAxis: xAxes, yAxis: yAxes, series: series
});
</script>
</body>
</html>
